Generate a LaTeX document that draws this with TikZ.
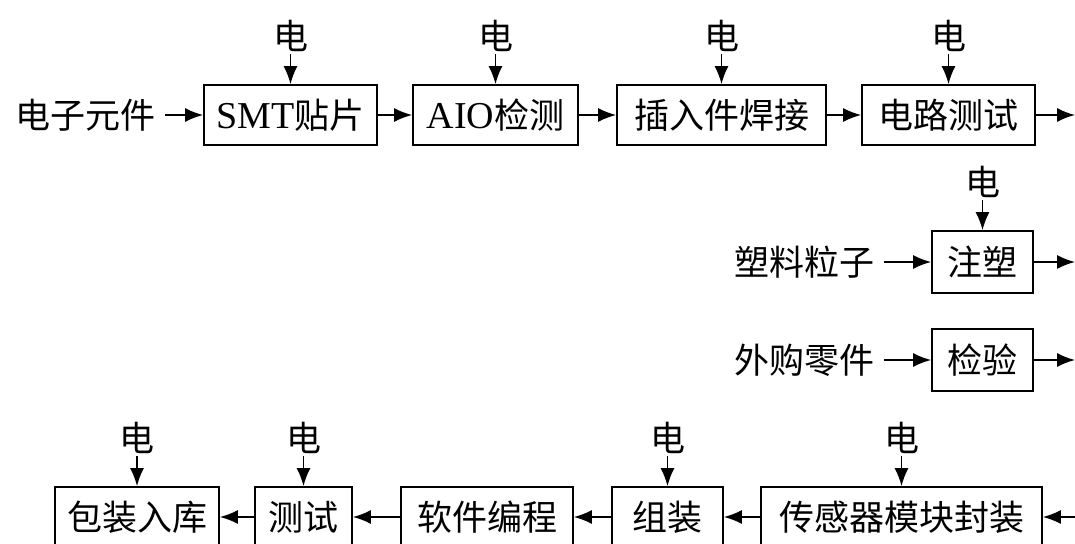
\documentclass[tikz,border=0pt]{standalone}
\usepackage{fontspec}
\setmainfont{Liberation Serif}
\newfontfamily\cjk{Noto Sans CJK SC}
\usetikzlibrary{arrows.meta,positioning}

\begin{document}
\begin{tikzpicture}[x=0.5pt,y=-0.5pt]
	\tikzset{every node/.style={font=\cjk\fontsize{17.5}{20}\selectfont}}
	\tikzset{stage/.style={draw,line width=0.9pt,minimum height=30pt,inner sep=0pt}}
	\tikzset{power/.style={inner sep=1pt}}
	\tikzset{src/.style={inner sep=5pt}}
	\tikzset{flow/.style={line width=0.8pt,-{Latex[length=9pt,width=7pt]}}}
	\useasboundingbox (0,0) rectangle (1075,544);
	% top row
	\node[src] (parts) at (85,115) {电子元件};
	\node[stage,minimum width=86.5pt] (smt) at (290.5,115) {{\rmfamily\fontsize{19}{20}\selectfont SMT}贴片};
	\node[stage,minimum width=82.5pt] (aio) at (495.5,115) {{\rmfamily\fontsize{19}{20}\selectfont AIO}检测};
	\node[stage,minimum width=104.5pt] (weld) at (721.5,115) {插入件焊接};
	\node[stage,minimum width=86.5pt] (ctest) at (948.5,115) {电路测试};
	% middle
	\node[src] (pellet) at (804,262) {塑料粒子};
	\node[stage,minimum width=50.5pt,minimum height=31pt] (mold) at (982.5,262) {注塑};
	\node[src] (bought) at (804,360) {外购零件};
	\node[stage,minimum width=50.5pt,minimum height=31pt] (check) at (982.5,360) {检验};
	% bottom row
	\node[stage,minimum width=82pt] (pack) at (137,517) {包装入库};
	\node[stage,minimum width=48.5pt] (test) at (303.5,517) {测试};
	\node[stage,minimum width=86pt] (soft) at (487,517) {软件编程};
	\node[stage,minimum width=55.5pt] (asm) at (667.5,517) {组装};
	\node[stage,minimum width=140.5pt] (sensor) at (901.5,517) {传感器模块封装};
	% right edge
	\coordinate (r1) at (1075,115);
	\coordinate (r2) at (1075,262);
	\coordinate (r3) at (1075,360);
	\coordinate (r4) at (1075,517);
	% power inputs
	\foreach \b in {smt,aio,weld,ctest,mold,pack,test,asm,sensor}{
		\node[power,above=15pt of \b] (e\b) {电};
		\draw[flow] (e\b) -- (\b);
	}
	\draw[flow] (parts) -- (smt);
	\draw[flow] (smt) -- (aio);
	\draw[flow] (aio) -- (weld);
	\draw[flow] (weld) -- (ctest);
	\draw[flow] (ctest) -- (r1);
	\draw[flow] (pellet) -- (mold);
	\draw[flow] (mold) -- (r2);
	\draw[flow] (bought) -- (check);
	\draw[flow] (check) -- (r3);
	\draw[flow] (r4) -- (sensor);
	\draw[flow] (sensor) -- (asm);
	\draw[flow] (asm) -- (soft);
	\draw[flow] (soft) -- (test);
	\draw[flow] (test) -- (pack);
\end{tikzpicture}
\end{document}
